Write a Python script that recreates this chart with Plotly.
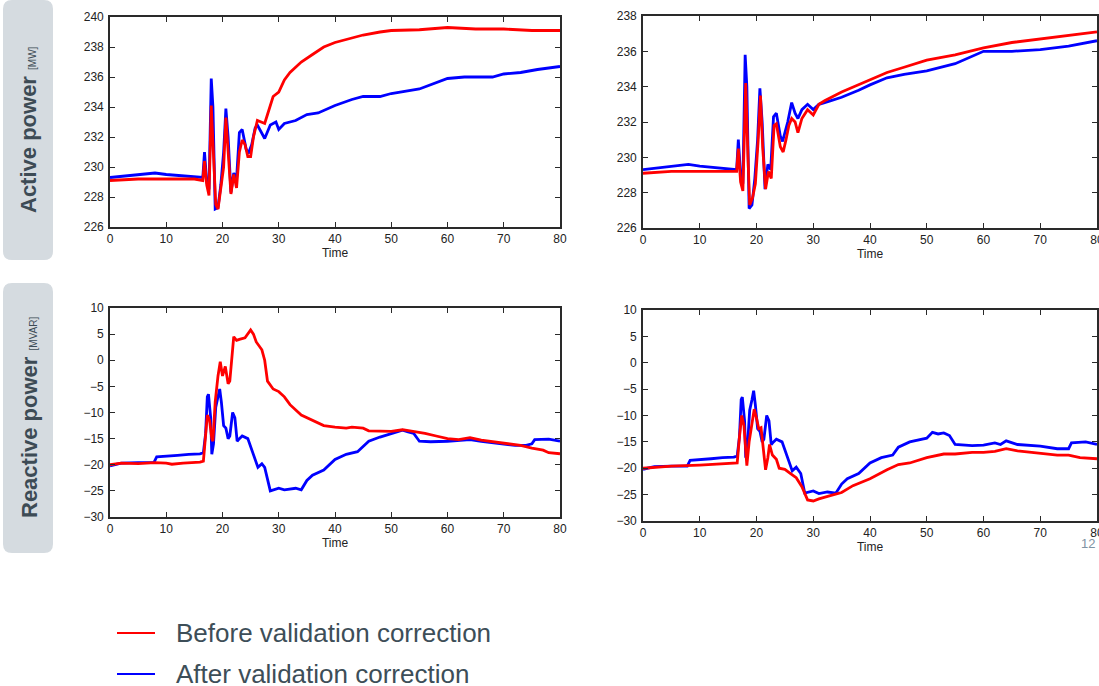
import plotly.graph_objects as go

# ---------------- DATA ----------------
# Active power, left panel
t_pl_before = [0, 5, 10, 15, 16.5, 16.8, 17.2, 17.6, 18.0, 18.4, 18.8, 19.2, 19.6, 20.2, 20.6, 21.0, 21.5, 22.0, 22.5, 23.0, 23.5, 24.0, 24.5, 25.0, 25.5, 26.2, 27, 27.5, 28, 29, 30, 31, 32, 34, 36, 38, 40, 42, 45, 48, 50, 55, 60, 65, 70, 75, 80]
p_left_before = [229.1, 229.2, 229.2, 229.2, 229.1, 230.4, 228.8, 228.1, 234.1, 231.0, 227.5, 227.2, 228.3, 230.0, 233.3, 231.0, 228.2, 229.5, 228.6, 231.0, 231.8, 231.5, 230.7, 230.7, 232.0, 233.1, 233.0, 232.9, 233.5, 234.7, 235.0, 235.8, 236.3, 237.0, 237.5, 238.0, 238.3, 238.5, 238.8, 239.0, 239.1, 239.15, 239.3, 239.2, 239.2, 239.1, 239.1]

t_pl_after = [0, 5, 8, 10, 13, 16.5, 16.8, 17.2, 17.6, 17.9, 18.0, 18.3, 18.7, 19.2, 19.7, 20.2, 20.6, 21.0, 21.5, 22.0, 22.5, 23.0, 23.5, 24.2, 24.6, 25.2, 25.8, 26.2, 27, 27.5, 28.5, 29.5, 30, 31, 33, 35, 37, 40, 43, 45, 48, 50, 55, 58, 60, 63, 65, 68, 70, 73, 76, 80]
p_left_after = [229.3, 229.5, 229.6, 229.5, 229.4, 229.3, 231.0, 229.0, 228.5, 233.5, 235.9, 234.0, 227.2, 227.3, 228.8, 231.0, 233.9, 232.0, 228.3, 229.6, 229.2, 232.3, 232.5, 231.2, 230.9, 231.5, 232.6, 232.8, 232.3, 231.9, 232.8, 233.0, 232.5, 232.9, 233.1, 233.5, 233.6, 234.1, 234.5, 234.7, 234.7, 234.9, 235.2, 235.6, 235.9, 236.0, 236.0, 236.0, 236.2, 236.3, 236.5, 236.7]

# Active power, right panel
t_pr_before = [0, 5, 10, 16.5, 16.8, 17.2, 17.6, 18.1, 18.5, 18.8, 19.3, 19.8, 20.3, 20.7, 21.1, 21.6, 22.1, 22.6, 23.1, 23.5, 24.2, 24.7, 25.2, 25.7, 26.2, 26.8, 27.3, 28, 29, 30, 31, 32, 35, 38, 40, 43, 46, 50, 55, 60, 65, 70, 75, 80]
p_right_before = [229.1, 229.2, 229.2, 229.2, 230.5, 228.6, 228.1, 234.2, 230.0, 227.3, 227.7, 228.5, 231.0, 233.5, 230.5, 228.2, 229.2, 228.8, 231.8, 231.9, 230.6, 230.3, 231.0, 231.8, 232.2, 232.0, 231.4, 232.2, 232.7, 232.4, 233.0, 233.2, 233.7, 234.1, 234.4, 234.8, 235.1, 235.5, 235.8, 236.2, 236.5, 236.7, 236.9, 237.1]

t_pr_after = [0, 5, 8, 10, 13, 16.5, 16.8, 17.2, 17.6, 17.9, 18.0, 18.3, 18.7, 19.2, 19.7, 20.2, 20.6, 21.0, 21.5, 22.0, 22.5, 23.0, 23.5, 24.2, 24.6, 25.5, 26.2, 26.8, 27.3, 28, 29, 30, 31, 33, 35, 38, 40, 43, 46, 50, 55, 60, 65, 70, 75, 80]
p_right_after = [229.3, 229.5, 229.6, 229.5, 229.4, 229.3, 231.0, 229.0, 228.5, 233.5, 235.8, 234.0, 227.1, 227.3, 228.8, 231.0, 233.9, 232.0, 228.2, 229.6, 229.3, 232.3, 232.5, 231.2, 230.9, 232.0, 233.1, 232.5, 232.2, 232.7, 233.0, 232.7, 233.0, 233.2, 233.4, 233.8, 234.1, 234.5, 234.7, 234.9, 235.3, 236.0, 236.0, 236.1, 236.3, 236.6]

# Reactive power, left panel
t_ql_before = [0, 2, 5, 8, 10, 11, 13, 16, 16.6, 17, 17.3, 17.7, 18.1, 18.3, 18.7, 19.2, 19.6, 20, 20.5, 21, 21.3, 22, 22.5, 23, 24, 25, 25.5, 26, 27, 27.5, 28, 29, 30, 31, 32, 34, 36, 38, 40, 42, 43, 45, 46, 50, 52, 54, 56, 58, 60, 62, 64, 66, 70, 73, 75, 77, 78, 80]
q_left_before = [-20.0, -19.7, -19.8, -19.6, -19.7, -19.9, -19.7, -19.5, -19.3, -15.0, -10.5, -11.5, -15.0, -15.5, -8.0, -3.0, -0.3, -3.0, -1.2, -4.5, -4.0, 4.5, 3.8, 4.0, 4.3, 5.8, 5.0, 3.5, 2.0, 0.0, -4.0, -5.5, -6.0, -7.0, -8.5, -10.5, -11.5, -12.5, -12.8, -13.0, -12.8, -13.0, -13.5, -13.6, -13.3, -13.6, -14.0, -14.5, -15.0, -15.2, -14.8, -15.3, -15.9, -16.3, -16.8, -17.2, -17.7, -17.9]

t_ql_after = [0, 2, 5, 7.8, 8.3, 10, 12, 14, 16, 16.6, 17, 17.3, 17.5, 17.9, 18.1, 18.4, 18.8, 19.2, 19.5, 19.8, 20.2, 20.6, 21, 21.3, 21.8, 22.2, 22.6, 23, 23.5, 24.5, 25.5, 26.3, 27, 27.5, 28.5, 30, 31, 32, 33, 34, 35, 36, 38, 40, 42, 44, 45, 46, 48, 50, 52, 53, 54, 55, 57, 60, 62, 64, 66, 68, 70, 72, 74, 75, 75.5, 78, 80]
q_left_after = [-20.2, -19.7, -19.6, -19.6, -18.5, -18.3, -18.2, -18.0, -17.9, -17.7, -14.0, -7.0, -6.5, -11.0, -18.0, -16.0, -9.0, -7.0, -5.5, -8.0, -12.5, -13.0, -15.0, -14.5, -10.0, -11.0, -15.5, -15.0, -14.5, -15.0, -18.0, -20.5, -19.8, -20.5, -25.0, -24.5, -24.8, -24.7, -24.5, -24.8, -23.0, -22.0, -21.0, -19.0, -18.0, -17.5, -16.5, -15.5, -14.7, -14.0, -13.4, -13.7, -14.0, -15.5, -15.6, -15.5, -15.3, -15.2, -15.5, -15.8, -16.0, -16.3, -16.3, -16.0, -15.2, -15.1, -15.5]

# Reactive power, right panel
t_qr_before = [0, 5, 10, 14, 16.6, 17, 17.4, 17.8, 18.3, 18.7, 19.2, 19.6, 20, 20.4, 20.8, 21.2, 21.6, 22, 22.3, 22.8, 23.5, 24, 25, 26, 27, 28, 29, 30, 31, 33, 35, 37, 40, 43, 45, 47, 50, 53, 55, 58, 60, 62, 64, 66, 70, 73, 75, 77, 80]
q_right_before = [-20.0, -19.6, -19.4, -19.1, -19.0, -14.0, -10.0, -12.0, -19.5, -15.0, -11.0, -8.8, -10.5, -12.5, -12.3, -16.0, -20.3, -18.0, -15.5, -17.5, -18.3, -20.0, -20.2, -21.0, -21.8, -23.5, -26.0, -26.2, -25.8, -25.2, -24.6, -23.3, -22.0, -20.3, -19.3, -19.0, -18.0, -17.3, -17.3, -17.0, -17.0, -16.8, -16.3, -16.7, -17.2, -17.5, -17.5, -18.0, -18.2]

t_qr_after = [0, 2, 5, 7.8, 8.3, 10, 12, 14, 16, 16.6, 17, 17.3, 17.5, 17.9, 18.1, 18.4, 18.8, 19.2, 19.5, 19.8, 20.2, 20.6, 21, 21.3, 21.8, 22.2, 22.6, 23, 23.5, 24.5, 25.5, 26.3, 27, 27.8, 28.5, 30, 31, 32.5, 34, 35, 36, 38, 40, 42, 44, 45, 47, 50, 51, 52, 53, 54, 55, 58, 60, 62, 63, 64, 66, 70, 73, 75, 75.5, 78, 80]
q_right_after = [-20.2, -19.7, -19.6, -19.6, -18.5, -18.3, -18.2, -18.0, -17.9, -17.7, -14.0, -7.0, -6.5, -11.0, -18.0, -16.0, -9.0, -7.0, -5.3, -8.0, -12.5, -13.0, -15.0, -14.5, -10.0, -11.0, -15.5, -15.0, -14.5, -15.0, -18.0, -20.5, -19.8, -21.0, -24.7, -24.3, -24.8, -24.5, -24.7, -23.0, -22.0, -21.0, -19.0, -18.0, -17.5, -16.0, -15.0, -14.3, -13.2, -13.5, -13.3, -13.8, -15.5, -15.7, -15.6, -15.2, -15.5, -14.8, -15.5, -15.8, -16.3, -16.3, -15.2, -15.0, -15.5]

series_names = ["Before validation correction", "After validation correction"]
row_labels = ["Active power", "Reactive power"]
row_units = ["[MW]", "[MVAR]"]
x_title = "Time"
x_ticks = [0, 10, 20, 30, 40, 50, 60, 70, 80]
p_left_ticks = [226, 228, 230, 232, 234, 236, 238, 240]
p_right_ticks = [226, 228, 230, 232, 234, 236, 238]
q_ticks = [-30, -25, -20, -15, -10, -5, 0, 5, 10]
page_number = "12"

# ---------------- FIGURE ----------------
# The page body margin is removed (see post_script), so positions below are
# window pixels directly.
W, H = 1099, 686
RED, BLUE = "#ff0000", "#0000ff"
TXT = "#3d4b55"
FONT = "Liberation Sans, Arial"


def sx(X):
    return X / W


def sy(Y):
    return 1 - Y / H


def px_x(a, b):
    return [sx(a), sx(b)]


def px_y(top, bottom):
    return [sy(bottom), sy(top)]


fig = go.Figure()

panels = [
    ("", px_x(110, 560), px_y(17, 227), [226, 240], p_left_ticks,
     (t_pl_before, p_left_before), (t_pl_after, p_left_after)),
    ("2", px_x(643, 1097), px_y(16, 228), [226, 238], p_right_ticks,
     (t_pr_before, p_right_before), (t_pr_after, p_right_after)),
    ("3", px_x(110, 560), px_y(308, 517), [-30, 10], q_ticks,
     (t_ql_before, q_left_before), (t_ql_after, q_left_after)),
    ("4", px_x(643, 1097), px_y(310, 521), [-30, 10], q_ticks,
     (t_qr_before, q_right_before), (t_qr_after, q_right_after)),
]

axis_common = dict(
    showline=True, linecolor="#2a2a2a", linewidth=1.6, mirror="allticks",
    ticks="inside", ticklen=5, tickcolor="#2a2a2a", tickwidth=1,
    showgrid=False, zeroline=False, automargin=False, ticklabeloverflow="allow",
    tickfont=dict(family=FONT, size=12, color="#222222"),
)

for suf, xd, yd, yr, yt, bef, aft in panels:
    xa = "x" + suf
    ya = "y" + suf
    fig.add_trace(go.Scatter(x=aft[0], y=aft[1], mode="lines", xaxis=xa, yaxis=ya,
                             line=dict(color=BLUE, width=2.8), name=series_names[1],
                             showlegend=False))
    fig.add_trace(go.Scatter(x=bef[0], y=bef[1], mode="lines", xaxis=xa, yaxis=ya,
                             line=dict(color=RED, width=2.8), name=series_names[0],
                             showlegend=False))
    fig.layout["xaxis" + suf] = dict(
        domain=xd, range=[0, 80], tickvals=x_ticks, anchor=ya, ticklabelstandoff=0,
        title=dict(text=x_title, standoff=1, font=dict(family=FONT, size=12, color="#222222")),
        **axis_common)
    fig.layout["yaxis" + suf] = dict(
        domain=yd, range=yr, tickvals=yt, anchor=xa, ticklabelstandoff=2, **axis_common)

# Left row label boxes
boxes = [(3, 0, 53, 260), (3, 283, 53, 553)]
for i, (x0, y0, x1, y1) in enumerate(boxes):
    r = 9
    X0, X1 = sx(x0), sx(x1)
    Y0, Y1 = sy(y1), sy(y0)
    rx, ry = r / W, r / H
    path = (f"M{X0+rx},{Y0} L{X1-rx},{Y0} Q{X1},{Y0} {X1},{Y0+ry} "
            f"L{X1},{Y1-ry} Q{X1},{Y1} {X1-rx},{Y1} L{X0+rx},{Y1} "
            f"Q{X0},{Y1} {X0},{Y1-ry} L{X0},{Y0+ry} Q{X0},{Y0} {X0+rx},{Y0} Z")
    fig.add_shape(type="path", path=path, xref="paper", yref="paper",
                  fillcolor="#d5dbe0", line=dict(width=0), layer="below")
    fig.add_annotation(
        x=sx(29), y=sy((y0 + y1) / 2), xref="paper", yref="paper",
        xanchor="center", yanchor="middle",
        text=f"<b>{row_labels[i]}</b> <span style='font-size:10px'>{row_units[i]}</span>",
        textangle=-90, showarrow=False,
        font=dict(family=FONT, size=22, color=TXT))

# Legend (drawn at bottom)
leg = [(633, RED, series_names[0]), (674, BLUE, series_names[1])]
for yy, col, name in leg:
    fig.add_shape(type="line", xref="paper", yref="paper",
                  x0=sx(117), x1=sx(155), y0=sy(yy), y1=sy(yy),
                  line=dict(color=col, width=2.2))
    fig.add_annotation(x=sx(174), y=sy(yy), xref="paper", yref="paper",
                       xanchor="left", yanchor="middle", showarrow=False, text=name,
                       font=dict(family=FONT, size=26, color="#3d4e58"))

fig.add_annotation(x=sx(1097), y=sy(543), xref="paper", yref="paper",
                   xanchor="right", yanchor="middle", showarrow=False, text=page_number,
                   font=dict(family=FONT, size=13, color="#7f93a3"))

fig.update_layout(width=W, height=H, margin=dict(l=0, r=0, t=0, b=0),
                  paper_bgcolor="white", plot_bgcolor="white", showlegend=False)

fig.write_html(
    "out.html",
    config={"displayModeBar": False},
    post_script="document.body.style.margin='0';"
                "document.documentElement.style.overflow='hidden';"
                "document.body.style.overflow='hidden';",
)
